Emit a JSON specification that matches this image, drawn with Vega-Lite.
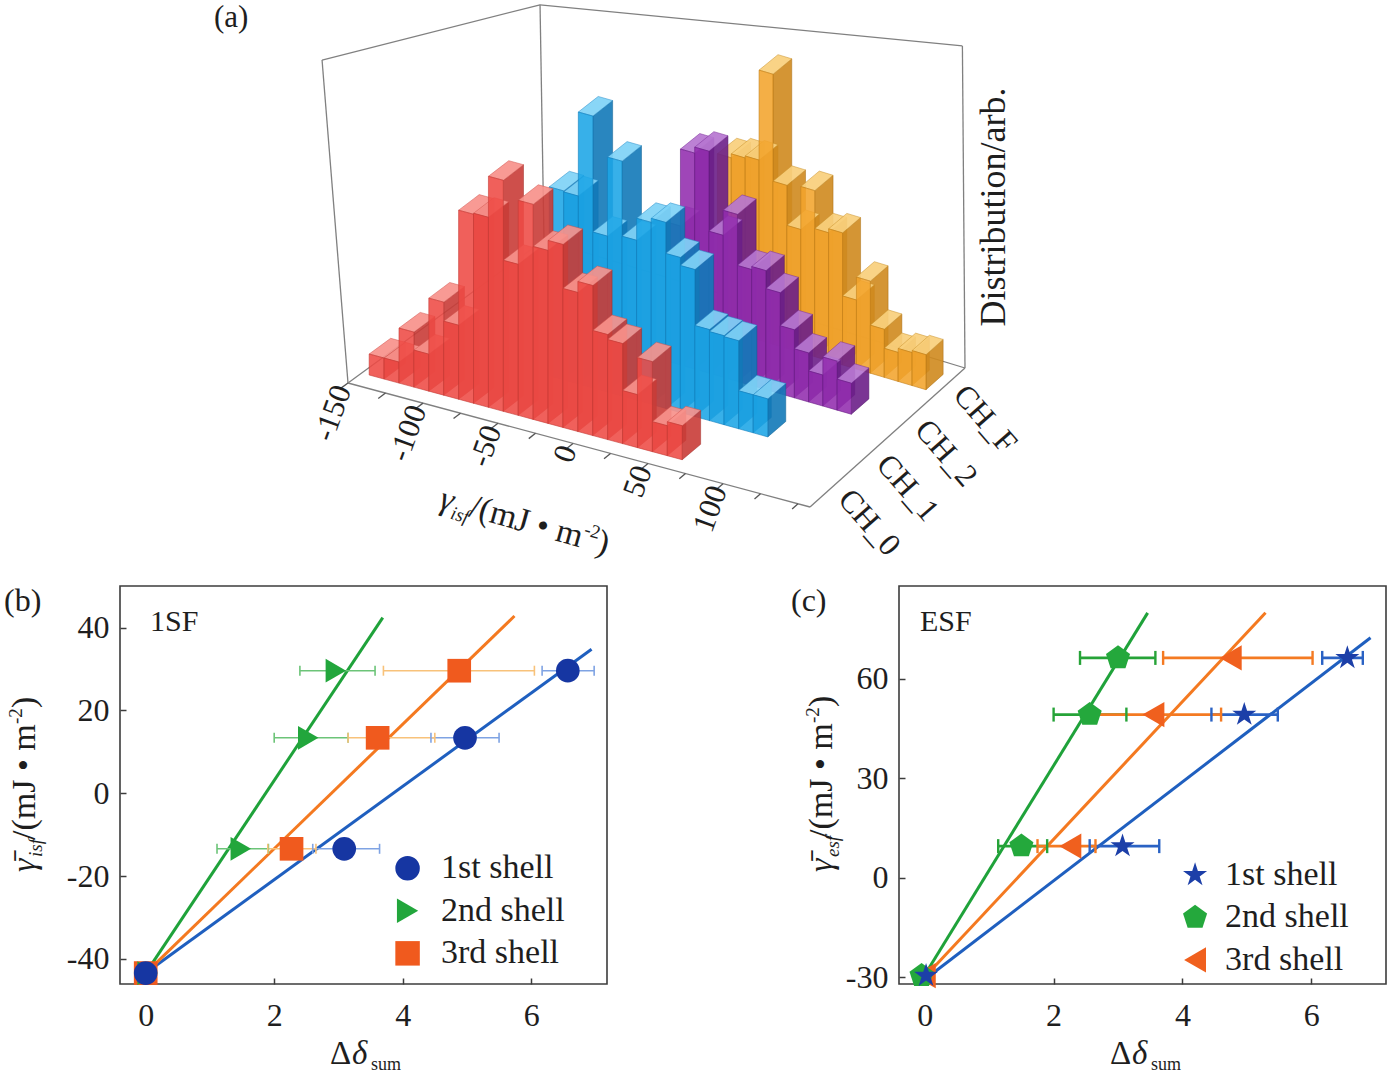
{
"$schema": "https://vega.github.io/schema/vega-lite/v6.json",
"padding": 0,
"autosize": {"type": "pad"},
"background": "white",
"spacing": 0,
"bounds": "flush",
"config": {
  "font": "Liberation Serif",
  "view": {"stroke": "#3c3c3c", "strokeWidth": 1.6},
  "axis": {"labelFont": "Liberation Serif", "labelFontSize": 32, "labelColor": "#1e1e1e", "domain": false, "grid": false, "ticks": true, "tickSize": -6, "tickColor": "#3c3c3c", "tickWidth": 1.5, "labelExpr": "replace(datum.label, '−', '-')"},
  "axisX": {"labelPadding": 22},
  "axisY": {"labelPadding": 17},
  "text": {"font": "Liberation Serif", "color": "#1e1e1e"}
},
"datasets": {
  "hist": [
    {"series":"CH_0","gamma":-140,"n":21},{"series":"CH_0","gamma":-130,"n":21},{"series":"CH_0","gamma":-120,"n":55},{"series":"CH_0","gamma":-110,"n":37},{"series":"CH_0","gamma":-100,"n":93},{"series":"CH_0","gamma":-90,"n":74},{"series":"CH_0","gamma":-80,"n":189},{"series":"CH_0","gamma":-70,"n":190},{"series":"CH_0","gamma":-60,"n":231},{"series":"CH_0","gamma":-50,"n":151},{"series":"CH_0","gamma":-40,"n":215},{"series":"CH_0","gamma":-30,"n":173},{"series":"CH_0","gamma":-20,"n":183},{"series":"CH_0","gamma":-10,"n":139},{"series":"CH_0","gamma":0,"n":150},{"series":"CH_0","gamma":10,"n":105},{"series":"CH_0","gamma":20,"n":100},{"series":"CH_0","gamma":30,"n":53},{"series":"CH_0","gamma":40,"n":90},{"series":"CH_0","gamma":50,"n":30},{"series":"CH_0","gamma":60,"n":34},
    {"series":"CH_1","gamma":-50,"n":189},{"series":"CH_1","gamma":-40,"n":188},{"series":"CH_1","gamma":-30,"n":272},{"series":"CH_1","gamma":-20,"n":156},{"series":"CH_1","gamma":-10,"n":235},{"series":"CH_1","gamma":0,"n":160},{"series":"CH_1","gamma":10,"n":182},{"series":"CH_1","gamma":20,"n":186},{"series":"CH_1","gamma":30,"n":155},{"series":"CH_1","gamma":40,"n":147},{"series":"CH_1","gamma":50,"n":91},{"series":"CH_1","gamma":60,"n":89},{"series":"CH_1","gamma":70,"n":88},{"series":"CH_1","gamma":80,"n":38},{"series":"CH_1","gamma":90,"n":38},
    {"series":"CH_2","gamma":0,"n":139},{"series":"CH_2","gamma":10,"n":216},{"series":"CH_2","gamma":20,"n":222},{"series":"CH_2","gamma":30,"n":142},{"series":"CH_2","gamma":40,"n":167},{"series":"CH_2","gamma":50,"n":116},{"series":"CH_2","gamma":60,"n":119},{"series":"CH_2","gamma":70,"n":101},{"series":"CH_2","gamma":80,"n":68},{"series":"CH_2","gamma":90,"n":49},{"series":"CH_2","gamma":100,"n":31},{"series":"CH_2","gamma":110,"n":49},{"series":"CH_2","gamma":120,"n":31},
    {"series":"CH_F","gamma":5,"n":174},{"series":"CH_F","gamma":15,"n":178},{"series":"CH_F","gamma":25,"n":180},{"series":"CH_F","gamma":35,"n":270},{"series":"CH_F","gamma":45,"n":163},{"series":"CH_F","gamma":55,"n":123},{"series":"CH_F","gamma":65,"n":166},{"series":"CH_F","gamma":75,"n":128},{"series":"CH_F","gamma":85,"n":132},{"series":"CH_F","gamma":95,"n":69},{"series":"CH_F","gamma":105,"n":92},{"series":"CH_F","gamma":115,"n":48},{"series":"CH_F","gamma":125,"n":29},{"series":"CH_F","gamma":135,"n":33},{"series":"CH_F","gamma":145,"n":35}
  ],
  "frame": [
    {"g1":-150,"s1":0,"z1":0,"g2":158,"s2":0,"z2":0},
    {"g1":158,"s1":0,"z1":0,"g2":158,"s2":4,"z2":0},
    {"g1":158,"s1":4,"z1":0,"g2":-150,"s2":4,"z2":0},
    {"g1":-150,"s1":4,"z1":0,"g2":-150,"s2":0,"z2":0},
    {"g1":-150,"s1":0,"z1":0,"g2":-167.3,"s2":0,"z2":316},
    {"g1":-167.3,"s1":0,"z1":316,"g2":-152.9,"s2":4,"z2":234},
    {"g1":-152.9,"s1":4,"z1":234,"g2":156.1,"s2":4,"z2":321.3},
    {"g1":156.1,"s1":4,"z1":321.3,"g2":158,"s2":4,"z2":0},
    {"g1":-152.9,"s1":4,"z1":234,"g2":-150,"s2":4,"z2":0}
  ],
  "gticks": [{"v":-150},{"v":-125},{"v":-100},{"v":-75},{"v":-50},{"v":-25},{"v":0},{"v":25},{"v":50},{"v":75},{"v":100},{"v":125},{"v":150}],
  "chan": [{"series":"CH_0"},{"series":"CH_1"},{"series":"CH_2"},{"series":"CH_F"}],
  "shells": [{"shell":"1st shell"},{"shell":"2nd shell"},{"shell":"3rd shell"}],
  "b_pts": [
    {"shell":"3rd shell","x":0,"y":-43.4},{"shell":"3rd shell","x":2.27,"y":-13.4},{"shell":"3rd shell","x":3.61,"y":13.4},{"shell":"3rd shell","x":4.88,"y":29.6},
    {"shell":"2nd shell","x":0.03,"y":-43.4},{"shell":"2nd shell","x":1.48,"y":-13.4},{"shell":"2nd shell","x":2.53,"y":13.4},{"shell":"2nd shell","x":2.96,"y":29.6},
    {"shell":"1st shell","x":0,"y":-43.4},{"shell":"1st shell","x":3.09,"y":-13.4},{"shell":"1st shell","x":4.97,"y":13.4},{"shell":"1st shell","x":6.57,"y":29.6}
  ],
  "b_err": [
    {"shell":"1st shell","y":-13.4,"x":2.6,"x2":3.64},{"shell":"1st shell","y":13.4,"x":4.44,"x2":5.5},{"shell":"1st shell","y":29.6,"x":6.17,"x2":6.98},
    {"shell":"2nd shell","y":-13.4,"x":1.11,"x2":1.91},{"shell":"2nd shell","y":13.4,"x":2.0,"x2":3.15},{"shell":"2nd shell","y":29.6,"x":2.4,"x2":3.57},
    {"shell":"3rd shell","y":-13.4,"x":1.9,"x2":2.65},{"shell":"3rd shell","y":13.4,"x":3.15,"x2":4.5},{"shell":"3rd shell","y":29.6,"x":3.7,"x2":6.05}
  ],
  "b_fit": [
    {"shell":"1st shell","x":0,"y":-43.4,"x2":6.94,"y2":34.8},
    {"shell":"2nd shell","x":0,"y":-43.4,"x2":3.69,"y2":42.4},
    {"shell":"3rd shell","x":0,"y":-43.4,"x2":5.74,"y2":42.8}
  ],
  "c_pts": [
    {"shell":"3rd shell","x":0,"y":-29.6},{"shell":"3rd shell","x":2.26,"y":9.5},{"shell":"3rd shell","x":3.55,"y":49.2},{"shell":"3rd shell","x":4.75,"y":66.3},
    {"shell":"2nd shell","x":-0.05,"y":-29.6},{"shell":"2nd shell","x":1.5,"y":9.5},{"shell":"2nd shell","x":2.56,"y":49.2},{"shell":"2nd shell","x":3.0,"y":66.3},
    {"shell":"1st shell","x":0.02,"y":-29.6},{"shell":"1st shell","x":3.07,"y":9.5},{"shell":"1st shell","x":4.96,"y":49.2},{"shell":"1st shell","x":6.56,"y":66.3}
  ],
  "c_err": [
    {"shell":"1st shell","y":9.5,"x":2.56,"x2":3.64},{"shell":"1st shell","y":49.2,"x":4.45,"x2":5.48},{"shell":"1st shell","y":66.3,"x":6.17,"x2":6.8},
    {"shell":"2nd shell","y":9.5,"x":1.14,"x2":1.9},{"shell":"2nd shell","y":49.2,"x":2.0,"x2":3.13},{"shell":"2nd shell","y":66.3,"x":2.41,"x2":3.58},
    {"shell":"3rd shell","y":9.5,"x":1.75,"x2":2.65},{"shell":"3rd shell","y":49.2,"x":2.59,"x2":4.6},{"shell":"3rd shell","y":66.3,"x":3.7,"x2":6.02}
  ],
  "c_fit": [
    {"shell":"1st shell","x":0.05,"y":-30,"x2":6.92,"y2":72.4},
    {"shell":"2nd shell","x":-0.02,"y":-30,"x2":3.46,"y2":79.9},
    {"shell":"3rd shell","x":0,"y":-30,"x2":5.29,"y2":79.9}
  ]
},
"vconcat": [
  {
    "width": 1388, "height": 586,
    "view": {"stroke": null},
    "encoding": {
      "x": {"field": "px", "type": "quantitative", "scale": {"domain": [0, 1388], "nice": false, "zero": false}, "axis": null},
      "y": {"field": "py", "type": "quantitative", "scale": {"domain": [0, 586], "nice": false, "zero": false, "reverse": true}, "axis": null, "stack": null}
    },
    "layer": [
      {"data": {"name": "frame"},
       "transform": [
         {"calculate": "(datum.g1+150)/308", "as": "t1"}, {"calculate": "datum.s1/4", "as": "r1"},
         {"calculate": "(datum.g2+150)/308", "as": "t2"}, {"calculate": "datum.s2/4", "as": "r2"},
         {"calculate": "348+462*datum.t1+196*datum.r1-41*datum.t1*datum.r1", "as": "px"},
         {"calculate": "383+124*datum.t1-143*datum.r1+4*datum.t1*datum.r1-datum.z1", "as": "py"},
         {"calculate": "348+462*datum.t2+196*datum.r2-41*datum.t2*datum.r2", "as": "px2"},
         {"calculate": "383+124*datum.t2-143*datum.r2+4*datum.t2*datum.r2-datum.z2", "as": "py2"}
       ],
       "mark": {"type": "rule", "stroke": "#808080", "strokeWidth": 1.3},
       "encoding": {"x2": {"field": "px2"}, "y2": {"field": "py2"}}},
      {"data": {"name": "gticks"},
       "transform": [
         {"calculate": "(datum.v+150)/308", "as": "t"},
         {"calculate": "348+462*datum.t", "as": "px"},
         {"calculate": "383+124*datum.t", "as": "py"},
         {"calculate": "348+462*datum.t+196*(-0.0375)-41*datum.t*(-0.0375)", "as": "px2"},
         {"calculate": "383+124*datum.t-143*(-0.0375)+4*datum.t*(-0.0375)", "as": "py2"}
       ],
       "mark": {"type": "rule", "stroke": "#555555", "strokeWidth": 1.3},
       "encoding": {"x2": {"field": "px2"}, "y2": {"field": "py2"}}},
      {"data": {"name": "hist"},
       "transform": [
         {"calculate": "indexof(['CH_0','CH_1','CH_2','CH_F'], datum.series) + 0.5", "as": "sc"},
         {"calculate": "(datum.gamma-5+150)/308", "as": "ta"},
         {"calculate": "(datum.gamma+5+150)/308", "as": "tb"},
         {"calculate": "(datum.sc-0.22)/4", "as": "ra"},
         {"calculate": "(datum.sc+0.22)/4", "as": "rb"},
         {"calculate": "348+462*datum.ta+196*datum.ra-41*datum.ta*datum.ra", "as": "xFL"},
         {"calculate": "383+124*datum.ta-143*datum.ra+4*datum.ta*datum.ra", "as": "yFL"},
         {"calculate": "348+462*datum.tb+196*datum.ra-41*datum.tb*datum.ra", "as": "xFR"},
         {"calculate": "383+124*datum.tb-143*datum.ra+4*datum.tb*datum.ra", "as": "yFR"},
         {"calculate": "348+462*datum.tb+196*datum.rb-41*datum.tb*datum.rb", "as": "xBR"},
         {"calculate": "383+124*datum.tb-143*datum.rb+4*datum.tb*datum.rb", "as": "yBR"},
         {"calculate": "348+462*datum.ta+196*datum.rb-41*datum.ta*datum.rb", "as": "xBL"},
         {"calculate": "383+124*datum.ta-143*datum.rb+4*datum.ta*datum.rb", "as": "yBL"}
       ],
       "layer": [
         {"transform":[{"filter":"datum.series=='CH_F'"},{"calculate":"[0,1]","as":"k"},{"flatten":["k"]},{"calculate":"datum.k==0?datum.xFR:datum.xBR","as":"px"},{"calculate":"datum.k==0?datum.yFR:datum.yBR","as":"py2"},{"calculate":"datum.py2-datum.n","as":"py"}],
          "mark":{"type":"area","orient":"vertical","fill":"#cf8a1e","fillOpacity":0.9,"stroke":"#a86c10","strokeWidth":0.5},
          "encoding":{"y2":{"field":"py2"},"detail":{"field":"gamma","type":"nominal"}}},
         {"transform":[{"filter":"datum.series=='CH_F'"},{"calculate":"[0,1,2,3]","as":"k"},{"flatten":["k"]},{"calculate":"datum.k==0?datum.xFL:datum.k==1?datum.xFR:datum.k==2?datum.xBL:datum.xBR","as":"px"},{"calculate":"(datum.k==0?datum.yFL:datum.k==1?datum.yFL+(datum.xFR-datum.xFL)/(datum.xBL-datum.xFL)*(datum.yBL-datum.yFL):datum.k==2?datum.yBL:datum.yBR)-datum.n","as":"py"},{"calculate":"(datum.k==0?datum.yFL:datum.k==1?datum.yFR:datum.k==2?datum.yFR+(datum.xBL-datum.xFR)/(datum.xBR-datum.xFR)*(datum.yBR-datum.yFR):datum.yBR)-datum.n","as":"py2"}],
          "mark":{"type":"area","orient":"vertical","fill":"#f9cf7c","fillOpacity":0.92,"stroke":"#c8902a","strokeWidth":0.5},
          "encoding":{"y2":{"field":"py2"},"detail":{"field":"gamma","type":"nominal"}}},
         {"transform":[{"filter":"datum.series=='CH_F'"},{"calculate":"[0,1]","as":"k"},{"flatten":["k"]},{"calculate":"datum.k==0?datum.xFL:datum.xFR","as":"px"},{"calculate":"datum.k==0?datum.yFL:datum.yFR","as":"py2"},{"calculate":"datum.py2-datum.n","as":"py"}],
          "mark":{"type":"area","orient":"vertical","fill":"#f2a42c","fillOpacity":0.88,"stroke":"#c2801a","strokeWidth":0.6},
          "encoding":{"y2":{"field":"py2"},"detail":{"field":"gamma","type":"nominal"}}},

         {"transform":[{"filter":"datum.series=='CH_2'"},{"calculate":"[0,1]","as":"k"},{"flatten":["k"]},{"calculate":"datum.k==0?datum.xFR:datum.xBR","as":"px"},{"calculate":"datum.k==0?datum.yFR:datum.yBR","as":"py2"},{"calculate":"datum.py2-datum.n","as":"py"}],
          "mark":{"type":"area","orient":"vertical","fill":"#6b1f88","fillOpacity":0.9,"stroke":"#4e1566","strokeWidth":0.5},
          "encoding":{"y2":{"field":"py2"},"detail":{"field":"gamma","type":"nominal"}}},
         {"transform":[{"filter":"datum.series=='CH_2'"},{"calculate":"[0,1,2,3]","as":"k"},{"flatten":["k"]},{"calculate":"datum.k==0?datum.xFL:datum.k==1?datum.xFR:datum.k==2?datum.xBL:datum.xBR","as":"px"},{"calculate":"(datum.k==0?datum.yFL:datum.k==1?datum.yFL+(datum.xFR-datum.xFL)/(datum.xBL-datum.xFL)*(datum.yBL-datum.yFL):datum.k==2?datum.yBL:datum.yBR)-datum.n","as":"py"},{"calculate":"(datum.k==0?datum.yFL:datum.k==1?datum.yFR:datum.k==2?datum.yFR+(datum.xBL-datum.xFR)/(datum.xBR-datum.xFR)*(datum.yBR-datum.yFR):datum.yBR)-datum.n","as":"py2"}],
          "mark":{"type":"area","orient":"vertical","fill":"#b676d0","fillOpacity":0.92,"stroke":"#7a2c98","strokeWidth":0.5},
          "encoding":{"y2":{"field":"py2"},"detail":{"field":"gamma","type":"nominal"}}},
         {"transform":[{"filter":"datum.series=='CH_2'"},{"calculate":"[0,1]","as":"k"},{"flatten":["k"]},{"calculate":"datum.k==0?datum.xFL:datum.xFR","as":"px"},{"calculate":"datum.k==0?datum.yFL:datum.yFR","as":"py2"},{"calculate":"datum.py2-datum.n","as":"py"}],
          "mark":{"type":"area","orient":"vertical","fill":"#922cae","fillOpacity":0.88,"stroke":"#6a1f86","strokeWidth":0.6},
          "encoding":{"y2":{"field":"py2"},"detail":{"field":"gamma","type":"nominal"}}},

         {"transform":[{"filter":"datum.series=='CH_1'"},{"calculate":"[0,1]","as":"k"},{"flatten":["k"]},{"calculate":"datum.k==0?datum.xFR:datum.xBR","as":"px"},{"calculate":"datum.k==0?datum.yFR:datum.yBR","as":"py2"},{"calculate":"datum.py2-datum.n","as":"py"}],
          "mark":{"type":"area","orient":"vertical","fill":"#1279b8","fillOpacity":0.9,"stroke":"#0d5e90","strokeWidth":0.5},
          "encoding":{"y2":{"field":"py2"},"detail":{"field":"gamma","type":"nominal"}}},
         {"transform":[{"filter":"datum.series=='CH_1'"},{"calculate":"[0,1,2,3]","as":"k"},{"flatten":["k"]},{"calculate":"datum.k==0?datum.xFL:datum.k==1?datum.xFR:datum.k==2?datum.xBL:datum.xBR","as":"px"},{"calculate":"(datum.k==0?datum.yFL:datum.k==1?datum.yFL+(datum.xFR-datum.xFL)/(datum.xBL-datum.xFL)*(datum.yBL-datum.yFL):datum.k==2?datum.yBL:datum.yBR)-datum.n","as":"py"},{"calculate":"(datum.k==0?datum.yFL:datum.k==1?datum.yFR:datum.k==2?datum.yFR+(datum.xBL-datum.xFR)/(datum.xBR-datum.xFR)*(datum.yBR-datum.yFR):datum.yBR)-datum.n","as":"py2"}],
          "mark":{"type":"area","orient":"vertical","fill":"#7fd2f6","fillOpacity":0.92,"stroke":"#2a8cc8","strokeWidth":0.5},
          "encoding":{"y2":{"field":"py2"},"detail":{"field":"gamma","type":"nominal"}}},
         {"transform":[{"filter":"datum.series=='CH_1'"},{"calculate":"[0,1]","as":"k"},{"flatten":["k"]},{"calculate":"datum.k==0?datum.xFL:datum.xFR","as":"px"},{"calculate":"datum.k==0?datum.yFL:datum.yFR","as":"py2"},{"calculate":"datum.py2-datum.n","as":"py"}],
          "mark":{"type":"area","orient":"vertical","fill":"#1ba5e6","fillOpacity":0.88,"stroke":"#1280bd","strokeWidth":0.6},
          "encoding":{"y2":{"field":"py2"},"detail":{"field":"gamma","type":"nominal"}}},

         {"transform":[{"filter":"datum.series=='CH_0'"},{"calculate":"[0,1]","as":"k"},{"flatten":["k"]},{"calculate":"datum.k==0?datum.xFR:datum.xBR","as":"px"},{"calculate":"datum.k==0?datum.yFR:datum.yBR","as":"py2"},{"calculate":"datum.py2-datum.n","as":"py"}],
          "mark":{"type":"area","orient":"vertical","fill":"#c93c37","fillOpacity":0.9,"stroke":"#9e2a26","strokeWidth":0.5},
          "encoding":{"y2":{"field":"py2"},"detail":{"field":"gamma","type":"nominal"}}},
         {"transform":[{"filter":"datum.series=='CH_0'"},{"calculate":"[0,1,2,3]","as":"k"},{"flatten":["k"]},{"calculate":"datum.k==0?datum.xFL:datum.k==1?datum.xFR:datum.k==2?datum.xBL:datum.xBR","as":"px"},{"calculate":"(datum.k==0?datum.yFL:datum.k==1?datum.yFL+(datum.xFR-datum.xFL)/(datum.xBL-datum.xFL)*(datum.yBL-datum.yFL):datum.k==2?datum.yBL:datum.yBR)-datum.n","as":"py"},{"calculate":"(datum.k==0?datum.yFL:datum.k==1?datum.yFR:datum.k==2?datum.yFR+(datum.xBL-datum.xFR)/(datum.xBR-datum.xFR)*(datum.yBR-datum.yFR):datum.yBR)-datum.n","as":"py2"}],
          "mark":{"type":"area","orient":"vertical","fill":"#f7918b","fillOpacity":0.92,"stroke":"#d0524c","strokeWidth":0.5},
          "encoding":{"y2":{"field":"py2"},"detail":{"field":"gamma","type":"nominal"}}},
         {"transform":[{"filter":"datum.series=='CH_0'"},{"calculate":"[0,1]","as":"k"},{"flatten":["k"]},{"calculate":"datum.k==0?datum.xFL:datum.xFR","as":"px"},{"calculate":"datum.k==0?datum.yFL:datum.yFR","as":"py2"},{"calculate":"datum.py2-datum.n","as":"py"}],
          "mark":{"type":"area","orient":"vertical","fill":"#ee4a44","fillOpacity":0.88,"stroke":"#c43a35","strokeWidth":0.6},
          "encoding":{"y2":{"field":"py2"},"detail":{"field":"gamma","type":"nominal"}}}
       ]},
      {"data": {"name": "gticks"},
       "transform": [
         {"filter": "datum.v%50==0 && datum.v<=100"},
         {"calculate": "(datum.v+150)/308", "as": "t"},
         {"calculate": "348+462*datum.t+196*(-0.025)-41*datum.t*(-0.025)", "as": "px"},
         {"calculate": "383+124*datum.t-143*(-0.025)+4*datum.t*(-0.025)", "as": "py"},
         {"calculate": "'' + datum.v", "as": "lab"}
       ],
       "mark": {"type": "text", "angle": 290, "align": "right", "baseline": "middle", "fontSize": 31, "font": "Liberation Serif", "color": "#1e1e1e"},
       "encoding": {"text": {"field": "lab"}}},
      {"data": {"name": "chan"},
       "transform": [
         {"calculate": "indexof(['CH_0','CH_1','CH_2','CH_F'], datum.series) + 0.5", "as": "sc"},
         {"calculate": "(168+150)/308", "as": "t"},
         {"calculate": "datum.sc/4", "as": "r"},
         {"calculate": "348+462*datum.t+196*datum.r-41*datum.t*datum.r", "as": "px"},
         {"calculate": "383+124*datum.t-143*datum.r+4*datum.t*datum.r", "as": "py"}
       ],
       "mark": {"type": "text", "angle": 49, "align": "left", "baseline": "middle", "fontSize": 32, "font": "Liberation Serif", "color": "#1e1e1e"},
       "encoding": {"text": {"field": "series"}}},
      {"data": {"values": [{"label": "(a)"}]}, "transform": [{"calculate": "214", "as": "px"}, {"calculate": "18", "as": "py"}],
       "mark": {"type": "text", "align": "left", "baseline": "middle", "fontSize": 31, "font": "Liberation Serif", "color": "#1e1e1e"},
       "encoding": {"text": {"field": "label", "type": "nominal"}}},
      {"data": {"values": [{"label": "Distribution/arb."}]}, "transform": [{"calculate": "1005", "as": "px"}, {"calculate": "207", "as": "py"}],
       "mark": {"type": "text", "angle": 270, "align": "center", "baseline": "alphabetic", "fontSize": 36, "font": "Liberation Serif", "color": "#1e1e1e"},
       "encoding": {"text": {"field": "label", "type": "nominal"}}},
      {"data": {"values": [{"label": "γ"}]}, "transform": [{"calculate": "438", "as": "px"}, {"calculate": "508", "as": "py"}],
       "mark": {"type": "text", "angle": 15.5, "align": "left", "baseline": "alphabetic", "fontSize": 34, "fontStyle": "italic", "font": "Liberation Serif", "color": "#1e1e1e"},
       "encoding": {"text": {"field": "label", "type": "nominal"}}},
      {"data": {"values": [{"label": "isf"}]}, "transform": [{"calculate": "438", "as": "px"}, {"calculate": "508", "as": "py"}],
       "mark": {"type": "text", "angle": 15.5, "align": "left", "baseline": "alphabetic", "fontSize": 19, "fontStyle": "italic", "dx": 14, "dy": 7, "font": "Liberation Serif", "color": "#1e1e1e"},
       "encoding": {"text": {"field": "label", "type": "nominal"}}},
      {"data": {"values": [{"label": "/(mJ • m"}]}, "transform": [{"calculate": "438", "as": "px"}, {"calculate": "508", "as": "py"}],
       "mark": {"type": "text", "angle": 15.5, "align": "left", "baseline": "alphabetic", "fontSize": 34, "dx": 31, "font": "Liberation Serif", "color": "#1e1e1e"},
       "encoding": {"text": {"field": "label", "type": "nominal"}}},
      {"data": {"values": [{"label": "-2"}]}, "transform": [{"calculate": "438", "as": "px"}, {"calculate": "508", "as": "py"}],
       "mark": {"type": "text", "angle": 15.5, "align": "left", "baseline": "alphabetic", "fontSize": 19, "dx": 147, "dy": -13, "font": "Liberation Serif", "color": "#1e1e1e"},
       "encoding": {"text": {"field": "label", "type": "nominal"}}},
      {"data": {"values": [{"label": ")"}]}, "transform": [{"calculate": "438", "as": "px"}, {"calculate": "508", "as": "py"}],
       "mark": {"type": "text", "angle": 15.5, "align": "left", "baseline": "alphabetic", "fontSize": 34, "dx": 163, "font": "Liberation Serif", "color": "#1e1e1e"},
       "encoding": {"text": {"field": "label", "type": "nominal"}}}
    ]
  },
  {
    "hconcat": [
      {"width": 120, "height": 20, "view": {"stroke": null}, "data": {"values": []}, "mark": "point"},
      {
        "hconcat": [
          {
            "width": 487, "height": 398,
            "resolve": {"scale": {"stroke": "independent"}},
            "encoding": {
              "x": {"field": "x", "type": "quantitative", "scale": {"domain": [-0.4, 7.18], "nice": false, "zero": false}, "axis": {"values": [0, 2, 4, 6], "title": null}},
              "y": {"field": "y", "type": "quantitative", "scale": {"domain": [-46.04, 50.05], "nice": false, "zero": false}, "axis": {"values": [-40, -20, 0, 20, 40], "title": null}}
            },
            "layer": [
              {"data": {"name": "b_fit"}, "mark": {"type": "rule", "strokeWidth": 3},
               "encoding": {"x2": {"field": "x2"}, "y2": {"field": "y2"},
                 "stroke": {"field": "shell", "type": "nominal", "scale": {"domain": ["1st shell","2nd shell","3rd shell"], "range": ["#1f5fbf","#1fa23a","#f47920"]}, "legend": null}}},
              {"data": {"name": "b_err"}, "mark": {"type": "rule", "strokeWidth": 1.6},
               "encoding": {"x2": {"field": "x2"},
                 "stroke": {"field": "shell", "type": "nominal", "scale": {"domain": ["1st shell","2nd shell","3rd shell"], "range": ["#7fa3e3","#6cc478","#f8c27a"]}, "legend": null}}},
              {"data": {"name": "b_err"}, "transform": [{"fold": ["x", "x2"], "as": ["end", "x"]}],
               "mark": {"type": "tick", "orient": "vertical", "size": 10, "thickness": 1.6, "opacity": 1},
               "encoding": {"fill": {"field": "shell", "type": "nominal", "scale": {"domain": ["1st shell","2nd shell","3rd shell"], "range": ["#7fa3e3","#6cc478","#f8c27a"]}, "legend": null}}},
              {"data": {"name": "b_pts"}, "mark": {"type": "point", "filled": true, "size": 560, "opacity": 1},
               "encoding": {
                 "color": {"field": "shell", "type": "nominal", "scale": {"domain": ["1st shell","2nd shell","3rd shell"], "range": ["#1636a2","#22a63c","#f05a1e"]}, "legend": null},
                 "shape": {"field": "shell", "type": "nominal", "scale": {"domain": ["1st shell","2nd shell","3rd shell"], "range": ["circle","triangle-right","square"]}, "legend": null}
               }},
              {"data": {"name": "shells"},
               "transform": [{"calculate": "4.076", "as": "x"}, {"calculate": "-18.1 - 10.27*indexof(['1st shell','2nd shell','3rd shell'], datum.shell)", "as": "y"}],
               "layer": [
                 {"mark": {"type": "point", "filled": true, "size": 600, "opacity": 1},
                  "encoding": {
                    "color": {"field": "shell", "type": "nominal", "scale": {"domain": ["1st shell","2nd shell","3rd shell"], "range": ["#1636a2","#22a63c","#f05a1e"]}, "legend": null},
                    "shape": {"field": "shell", "type": "nominal", "scale": {"domain": ["1st shell","2nd shell","3rd shell"], "range": ["circle","triangle-right","square"]}, "legend": null}
                  }},
                 {"transform": [{"calculate": "datum.x + 0.52", "as": "x"}],
                  "mark": {"type": "text", "align": "left", "baseline": "middle", "fontSize": 34, "font": "Liberation Serif", "color": "#1e1e1e"},
                  "encoding": {"text": {"field": "shell", "type": "nominal"}}}
               ]},
              {"data": {"values": [{"label": "(b)"}]}, "transform": [{"calculate": "-2.205", "as": "x"}, {"calculate": "46.4", "as": "y"}],
               "mark": {"type": "text", "align": "left", "baseline": "middle", "fontSize": 32, "font": "Liberation Serif", "color": "#1e1e1e"},
               "encoding": {"text": {"field": "label", "type": "nominal"}}},
              {"data": {"values": [{"label": "1SF"}]}, "transform": [{"calculate": "0.067", "as": "x"}, {"calculate": "41.24", "as": "y"}],
               "mark": {"type": "text", "align": "left", "baseline": "middle", "fontSize": 30, "font": "Liberation Serif", "color": "#1e1e1e"},
               "encoding": {"text": {"field": "label", "type": "nominal"}}},
              {"data": {"values": [{"label": "γ̄"}]}, "transform": [{"calculate": "-1.723", "as": "x"}, {"calculate": "-19.0", "as": "y"}],
               "mark": {"type": "text", "angle": 270, "align": "left", "baseline": "alphabetic", "fontSize": 34, "fontStyle": "italic", "font": "Liberation Serif", "color": "#1e1e1e"},
               "encoding": {"text": {"field": "label", "type": "nominal"}}},
              {"data": {"values": [{"label": "isf"}]}, "transform": [{"calculate": "-1.723", "as": "x"}, {"calculate": "-19.0", "as": "y"}],
               "mark": {"type": "text", "angle": 270, "align": "left", "baseline": "alphabetic", "fontSize": 19, "fontStyle": "italic", "dx": 15, "dy": 7, "font": "Liberation Serif", "color": "#1e1e1e"},
               "encoding": {"text": {"field": "label", "type": "nominal"}}},
              {"data": {"values": [{"label": "/(mJ • m"}]}, "transform": [{"calculate": "-1.723", "as": "x"}, {"calculate": "-19.0", "as": "y"}],
               "mark": {"type": "text", "angle": 270, "align": "left", "baseline": "alphabetic", "fontSize": 34, "dx": 32, "font": "Liberation Serif", "color": "#1e1e1e"},
               "encoding": {"text": {"field": "label", "type": "nominal"}}},
              {"data": {"values": [{"label": "-2"}]}, "transform": [{"calculate": "-1.723", "as": "x"}, {"calculate": "-19.0", "as": "y"}],
               "mark": {"type": "text", "angle": 270, "align": "left", "baseline": "alphabetic", "fontSize": 19, "dx": 148, "dy": -13, "font": "Liberation Serif", "color": "#1e1e1e"},
               "encoding": {"text": {"field": "label", "type": "nominal"}}},
              {"data": {"values": [{"label": ")"}]}, "transform": [{"calculate": "-1.723", "as": "x"}, {"calculate": "-19.0", "as": "y"}],
               "mark": {"type": "text", "angle": 270, "align": "left", "baseline": "alphabetic", "fontSize": 34, "dx": 164, "font": "Liberation Serif", "color": "#1e1e1e"},
               "encoding": {"text": {"field": "label", "type": "nominal"}}},
              {"data": {"values": [{"label": "Δ"}]}, "transform": [{"calculate": "2.868", "as": "x"}, {"calculate": "-65.35", "as": "y"}],
               "mark": {"type": "text", "align": "left", "baseline": "alphabetic", "fontSize": 33, "font": "Liberation Serif", "color": "#1e1e1e"},
               "encoding": {"text": {"field": "label", "type": "nominal"}}},
              {"data": {"values": [{"label": "δ"}]}, "transform": [{"calculate": "2.868", "as": "x"}, {"calculate": "-65.35", "as": "y"}],
               "mark": {"type": "text", "align": "left", "baseline": "alphabetic", "fontSize": 33, "fontStyle": "italic", "dx": 22, "font": "Liberation Serif", "color": "#1e1e1e"},
               "encoding": {"text": {"field": "label", "type": "nominal"}}},
              {"data": {"values": [{"label": "sum"}]}, "transform": [{"calculate": "2.868", "as": "x"}, {"calculate": "-65.35", "as": "y"}],
               "mark": {"type": "text", "align": "left", "baseline": "alphabetic", "fontSize": 18, "dx": 41, "dy": 6, "font": "Liberation Serif", "color": "#1e1e1e"},
               "encoding": {"text": {"field": "label", "type": "nominal"}}}
            ]
          },
          {
            "width": 487, "height": 398,
            "resolve": {"scale": {"stroke": "independent"}},
            "encoding": {
              "x": {"field": "x", "type": "quantitative", "scale": {"domain": [-0.4, 7.16], "nice": false, "zero": false}, "axis": {"values": [0, 2, 4, 6], "title": null}},
              "y": {"field": "y", "type": "quantitative", "scale": {"domain": [-32.1, 88], "nice": false, "zero": false}, "axis": {"values": [-30, 0, 30, 60], "title": null}}
            },
            "layer": [
              {"data": {"name": "c_fit"}, "mark": {"type": "rule", "strokeWidth": 3},
               "encoding": {"x2": {"field": "x2"}, "y2": {"field": "y2"},
                 "stroke": {"field": "shell", "type": "nominal", "scale": {"domain": ["1st shell","2nd shell","3rd shell"], "range": ["#1f5fbf","#1fa23a","#f47920"]}, "legend": null}}},
              {"data": {"name": "c_err"}, "mark": {"type": "rule", "strokeWidth": 2.6},
               "encoding": {"x2": {"field": "x2"},
                 "stroke": {"field": "shell", "type": "nominal", "scale": {"domain": ["1st shell","2nd shell","3rd shell"], "range": ["#2a62c4","#26a338","#f47a22"]}, "legend": null}}},
              {"data": {"name": "c_err"}, "transform": [{"fold": ["x", "x2"], "as": ["end", "x"]}],
               "mark": {"type": "tick", "orient": "vertical", "size": 14, "thickness": 2.4, "opacity": 1},
               "encoding": {"fill": {"field": "shell", "type": "nominal", "scale": {"domain": ["1st shell","2nd shell","3rd shell"], "range": ["#2a62c4","#26a338","#f47a22"]}, "legend": null}}},
              {"data": {"name": "c_pts"}, "mark": {"type": "point", "filled": true, "size": 640, "opacity": 1},
               "encoding": {
                 "color": {"field": "shell", "type": "nominal", "scale": {"domain": ["1st shell","2nd shell","3rd shell"], "range": ["#1c3fa8","#24a83c","#f0601e"]}, "legend": null},
                 "shape": {"field": "shell", "type": "nominal", "scale": {"domain": ["1st shell","2nd shell","3rd shell"], "range": ["M0,-1L0.2245,-0.309L0.9511,-0.309L0.3633,0.118L0.5878,0.809L0,0.382L-0.5878,0.809L-0.3633,0.118L-0.9511,-0.309L-0.2245,-0.309Z","M0,-1L0.9511,-0.309L0.5878,0.809L-0.5878,0.809L-0.9511,-0.309Z","triangle-left"]}, "legend": null}
               }},
              {"data": {"name": "shells"},
               "transform": [{"calculate": "4.196", "as": "x"}, {"calculate": "0.79 - 12.82*indexof(['1st shell','2nd shell','3rd shell'], datum.shell)", "as": "y"}],
               "layer": [
                 {"mark": {"type": "point", "filled": true, "size": 640, "opacity": 1},
                  "encoding": {
                    "color": {"field": "shell", "type": "nominal", "scale": {"domain": ["1st shell","2nd shell","3rd shell"], "range": ["#1c3fa8","#24a83c","#f0601e"]}, "legend": null},
                    "shape": {"field": "shell", "type": "nominal", "scale": {"domain": ["1st shell","2nd shell","3rd shell"], "range": ["M0,-1L0.2245,-0.309L0.9511,-0.309L0.3633,0.118L0.5878,0.809L0,0.382L-0.5878,0.809L-0.3633,0.118L-0.9511,-0.309L-0.2245,-0.309Z","M0,-1L0.9511,-0.309L0.5878,0.809L-0.5878,0.809L-0.9511,-0.309Z","triangle-left"]}, "legend": null}
                  }},
                 {"transform": [{"calculate": "datum.x + 0.466", "as": "x"}],
                  "mark": {"type": "text", "align": "left", "baseline": "middle", "fontSize": 34, "font": "Liberation Serif", "color": "#1e1e1e"},
                  "encoding": {"text": {"field": "shell", "type": "nominal"}}}
               ]},
              {"data": {"values": [{"label": "(c)"}]}, "transform": [{"calculate": "-2.077", "as": "x"}, {"calculate": "83.47", "as": "y"}],
               "mark": {"type": "text", "align": "left", "baseline": "middle", "fontSize": 32, "font": "Liberation Serif", "color": "#1e1e1e"},
               "encoding": {"text": {"field": "label", "type": "nominal"}}},
              {"data": {"values": [{"label": "ESF"}]}, "transform": [{"calculate": "-0.074", "as": "x"}, {"calculate": "77.0", "as": "y"}],
               "mark": {"type": "text", "align": "left", "baseline": "middle", "fontSize": 30, "font": "Liberation Serif", "color": "#1e1e1e"},
               "encoding": {"text": {"field": "label", "type": "nominal"}}},
              {"data": {"values": [{"label": "γ̄"}]}, "transform": [{"calculate": "-1.44", "as": "x"}, {"calculate": "1.7", "as": "y"}],
               "mark": {"type": "text", "angle": 270, "align": "left", "baseline": "alphabetic", "fontSize": 34, "fontStyle": "italic", "font": "Liberation Serif", "color": "#1e1e1e"},
               "encoding": {"text": {"field": "label", "type": "nominal"}}},
              {"data": {"values": [{"label": "esf"}]}, "transform": [{"calculate": "-1.44", "as": "x"}, {"calculate": "1.7", "as": "y"}],
               "mark": {"type": "text", "angle": 270, "align": "left", "baseline": "alphabetic", "fontSize": 19, "fontStyle": "italic", "dx": 15, "dy": 7, "font": "Liberation Serif", "color": "#1e1e1e"},
               "encoding": {"text": {"field": "label", "type": "nominal"}}},
              {"data": {"values": [{"label": "/(mJ • m"}]}, "transform": [{"calculate": "-1.44", "as": "x"}, {"calculate": "1.7", "as": "y"}],
               "mark": {"type": "text", "angle": 270, "align": "left", "baseline": "alphabetic", "fontSize": 34, "dx": 33, "font": "Liberation Serif", "color": "#1e1e1e"},
               "encoding": {"text": {"field": "label", "type": "nominal"}}},
              {"data": {"values": [{"label": "-2"}]}, "transform": [{"calculate": "-1.44", "as": "x"}, {"calculate": "1.7", "as": "y"}],
               "mark": {"type": "text", "angle": 270, "align": "left", "baseline": "alphabetic", "fontSize": 19, "dx": 149, "dy": -13, "font": "Liberation Serif", "color": "#1e1e1e"},
               "encoding": {"text": {"field": "label", "type": "nominal"}}},
              {"data": {"values": [{"label": ")"}]}, "transform": [{"calculate": "-1.44", "as": "x"}, {"calculate": "1.7", "as": "y"}],
               "mark": {"type": "text", "angle": 270, "align": "left", "baseline": "alphabetic", "fontSize": 34, "dx": 165, "font": "Liberation Serif", "color": "#1e1e1e"},
               "encoding": {"text": {"field": "label", "type": "nominal"}}},
              {"data": {"values": [{"label": "Δ"}]}, "transform": [{"calculate": "2.876", "as": "x"}, {"calculate": "-56.2", "as": "y"}],
               "mark": {"type": "text", "align": "left", "baseline": "alphabetic", "fontSize": 33, "font": "Liberation Serif", "color": "#1e1e1e"},
               "encoding": {"text": {"field": "label", "type": "nominal"}}},
              {"data": {"values": [{"label": "δ"}]}, "transform": [{"calculate": "2.876", "as": "x"}, {"calculate": "-56.2", "as": "y"}],
               "mark": {"type": "text", "align": "left", "baseline": "alphabetic", "fontSize": 33, "fontStyle": "italic", "dx": 22, "font": "Liberation Serif", "color": "#1e1e1e"},
               "encoding": {"text": {"field": "label", "type": "nominal"}}},
              {"data": {"values": [{"label": "sum"}]}, "transform": [{"calculate": "2.876", "as": "x"}, {"calculate": "-56.2", "as": "y"}],
               "mark": {"type": "text", "align": "left", "baseline": "alphabetic", "fontSize": 18, "dx": 41, "dy": 6, "font": "Liberation Serif", "color": "#1e1e1e"},
               "encoding": {"text": {"field": "label", "type": "nominal"}}}
            ]
          }
        ],
        "spacing": 292,
        "bounds": "flush",
        "resolve": {"scale": {"color": "independent", "shape": "independent", "stroke": "independent", "fill": "independent"}}
      }
    ],
    "spacing": 0,
    "bounds": "flush"
  }
]
}
